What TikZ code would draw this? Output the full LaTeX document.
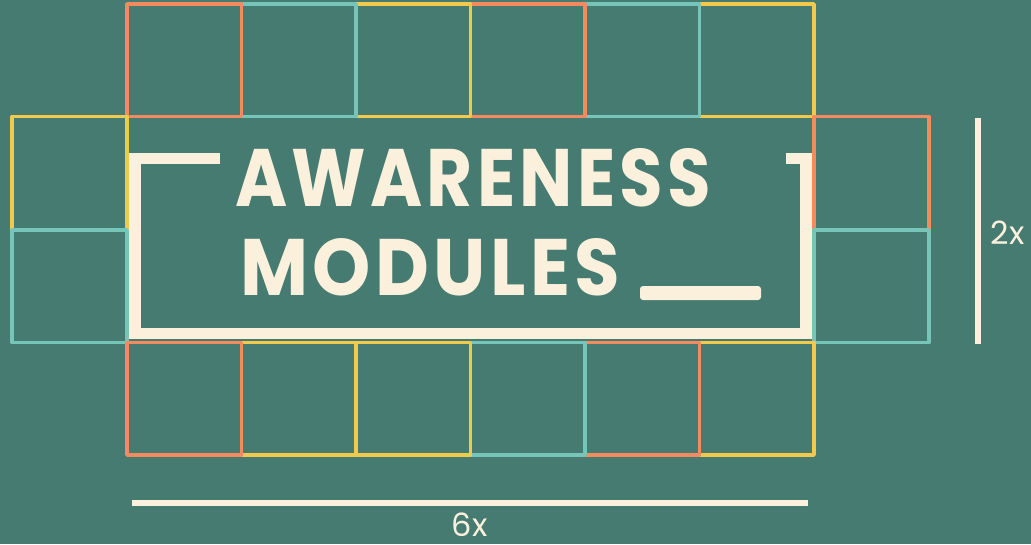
\documentclass[tikz,border=0pt]{standalone}
\usepackage{fontspec}
\usepackage{graphicx}
\setmainfont{Poppins}
\newfontfamily\titlefont{Poppins}[LetterSpace=6]
\definecolor{bg}{HTML}{457B71}
\definecolor{cream}{HTML}{FBF0DC}
\definecolor{cor}{HTML}{F58A5E}
\definecolor{cte}{HTML}{76C5B8}
\definecolor{cye}{HTML}{F2C94B}
\tikzset{
  cell/.style={line width=3.8pt, line join=round},
  frame/.style={draw=cream, line width=11.5pt, line join=miter},
  rule/.style={draw=cream, line width=6pt},
  lbl/.style={text=cream, inner sep=0pt, font=\fontsize{32}{32}\selectfont},
  ttl/.style={text=cream, inner sep=0pt, anchor=base west}
}
\begin{document}
\begin{tikzpicture}[x=1pt,y=-1pt]
\fill[bg] (0,0) rectangle (1031,544);
\useasboundingbox (0,0) rectangle (1031,544);
% top row (drawn right to left)
\draw[cell,cye] (699.5,4) rectangle (814,116.5);
\draw[cell,cte] (585,4) rectangle (699.5,116.5);
\draw[cell,cor] (470.5,4) rectangle (585,116.5);
\draw[cell,cye] (356,4) rectangle (470.5,116.5);
\draw[cell,cte] (241.5,4) rectangle (356,116.5);
\draw[cell,cor] (127,4) rectangle (241.5,116.5);
% left column
\draw[cell,cye] (12,116.5) rectangle (127,230);
\draw[cell,cte] (12,230) rectangle (127,342.5);
% right column
\draw[cell,cor] (814,116.5) rectangle (929,230);
\draw[cell,cte] (814,230) rectangle (929,342.5);
% bottom row (drawn right to left)
\draw[cell,cye] (699.5,342.5) rectangle (814,455);
\draw[cell,cor] (585,342.5) rectangle (699.5,455);
\draw[cell,cte] (470.5,342.5) rectangle (585,455);
\draw[cell,cye] (356,342.5) rectangle (470.5,455);
\draw[cell,cye] (241.5,342.5) rectangle (356,455);
\draw[cell,cor] (127,342.5) rectangle (241.5,455);
% bracket frame
\draw[frame] (220,158.5) -- (135,158.5) -- (135,333.5) -- (806,333.5) -- (806,158.5) -- (786,158.5);
% underscore
\fill[cream, rounded corners=3pt] (640,286) rectangle (761,300);
% title
\node[ttl] (t1) at (235,206) {\resizebox{476pt}{58pt}{\titlefont\bfseries AWARENESS}};
\node[ttl] (t2) at (240,295) {\resizebox{380pt}{57pt}{\titlefont\bfseries MODULES}};
% measures
\coordinate (v1) at (978,118);
\coordinate (v2) at (978,344);
\draw[rule] (v1) -- (v2);
\coordinate (h1) at (132,502.5);
\coordinate (h2) at (808,502.5);
\draw[rule] (h1) -- (h2);
\node[lbl] (two) at (1007.5,233) {2x};
\node[lbl] (six) at (469.5,525) {6x};
\end{tikzpicture}
\end{document}
